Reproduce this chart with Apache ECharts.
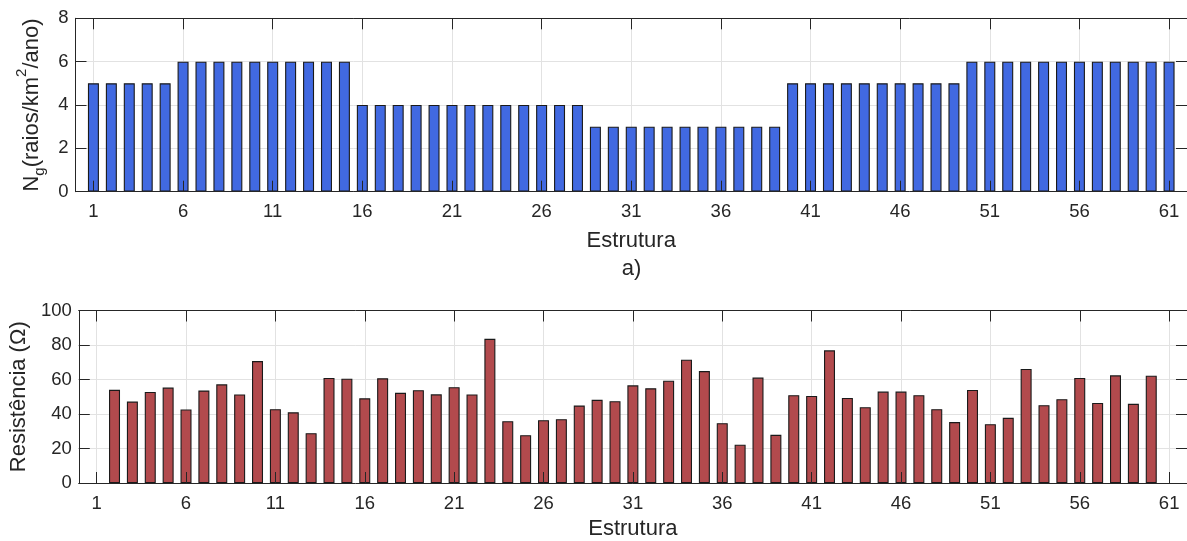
<!DOCTYPE html>
<html>
<head>
<meta charset="utf-8">
<script src="https://cdn.jsdelivr.net/npm/echarts@6/dist/echarts.min.js"></script>
<style>
  html, body { margin: 0; padding: 0; background: #ffffff; }
  #chart { width: 1187px; height: 541px; }
</style>
</head>
<body>
<div id="chart"></div>
<script>
// Estruturas da linha (1 a 61)
const estruturas = [1, 2, 3, 4, 5, 6, 7, 8, 9, 10, 11, 12, 13, 14, 15, 16, 17, 18, 19, 20,
  21, 22, 23, 24, 25, 26, 27, 28, 29, 30, 31, 32, 33, 34, 35, 36, 37, 38, 39, 40,
  41, 42, 43, 44, 45, 46, 47, 48, 49, 50, 51, 52, 53, 54, 55, 56, 57, 58, 59, 60, 61];

// Densidade de descargas Ng (raios/km²/ano) por estrutura
const ngValores = [5, 5, 5, 5, 5,
  6, 6, 6, 6, 6, 6, 6, 6, 6, 6,
  4, 4, 4, 4, 4, 4, 4, 4, 4, 4, 4, 4, 4,
  3, 3, 3, 3, 3, 3, 3, 3, 3, 3, 3,
  5, 5, 5, 5, 5, 5, 5, 5, 5, 5,
  6, 6, 6, 6, 6, 6, 6, 6, 6, 6, 6, 6];

// Resistência de aterramento (Ω) – estruturas 2 a 60
const resEstruturas = [2, 3, 4, 5, 6, 7, 8, 9, 10, 11, 12, 13, 14, 15, 16, 17, 18, 19, 20,
  21, 22, 23, 24, 25, 26, 27, 28, 29, 30, 31, 32, 33, 34, 35, 36, 37, 38, 39, 40,
  41, 42, 43, 44, 45, 46, 47, 48, 49, 50, 51, 52, 53, 54, 55, 56, 57, 58, 59, 60];
const resValores = [54.0, 47.2, 52.8, 55.3, 42.6, 53.6, 57.2, 51.3, 70.7, 42.8,
  41.0, 28.9, 60.9, 60.5, 49.1, 60.7, 52.3, 53.8, 51.4, 55.5,
  51.3, 83.6, 35.8, 27.7, 36.4, 37.0, 44.9, 48.2, 47.4, 56.6,
  54.9, 59.3, 71.5, 64.9, 34.7, 22.2, 61.1, 27.9, 50.9, 50.5,
  76.9, 49.3, 43.9, 53.0, 53.0, 50.9, 42.8, 35.3, 53.9, 34.1,
  37.8, 66.1, 45.1, 48.6, 60.9, 46.4, 62.4, 45.9, 62.2];

// Marcas do eixo x
const xTicks = [1, 6, 11, 16, 21, 26, 31, 36, 41, 46, 51, 56, 61];

const FONT = 'Liberation Sans, Arial, Helvetica, sans-serif';
const INK = '#262626';
const GRID = '#e2e2e2';

function xAxesFor(g, nameGap) {
  const base = { type: 'value', min: 0, max: 62, gridIndex: g };
  return [
    // grade vertical (atrás das barras)
    Object.assign({}, base, {
      position: 'bottom', z: 0,
      axisLine: { show: false },
      axisTick: { show: false, customValues: xTicks },
      axisLabel: { show: false, customValues: xTicks },
      splitLine: { show: true, lineStyle: { color: GRID, width: 1 } }
    }),
    // eixo inferior com rótulos
    Object.assign({}, base, {
      position: 'bottom', z: 5,
      axisLine: { show: true, onZero: false, lineStyle: { color: INK, width: 1 } },
      axisTick: { show: true, inside: true, length: 11, customValues: xTicks, lineStyle: { color: INK, width: 1 } },
      axisLabel: { show: true, customValues: xTicks, margin: 11, fontSize: 18.5, color: INK, fontFamily: FONT },
      splitLine: { show: false },
      name: 'Estrutura', nameLocation: 'middle', nameGap: nameGap,
      nameTextStyle: { fontSize: 22, color: INK, fontFamily: FONT }
    }),
    // contorno superior
    Object.assign({}, base, {
      position: 'top', z: 5,
      axisLine: { show: true, onZero: false, lineStyle: { color: INK, width: 1 } },
      axisTick: { show: true, inside: true, length: 11, customValues: xTicks, lineStyle: { color: INK, width: 1 } },
      axisLabel: { show: false },
      splitLine: { show: false }
    })
  ];
}

function yAxesFor(g, max, interval, name, nameGap, rich) {
  const base = { type: 'value', min: 0, max: max, interval: interval, gridIndex: g };
  return [
    Object.assign({}, base, {
      position: 'left', z: 0,
      axisLine: { show: false }, axisTick: { show: false }, axisLabel: { show: false },
      splitLine: { show: true, lineStyle: { color: GRID, width: 1 } }
    }),
    Object.assign({}, base, {
      position: 'left', z: 5,
      axisLine: { show: true, onZero: false, lineStyle: { color: INK, width: 1 } },
      axisTick: { show: true, inside: true, length: 11, lineStyle: { color: INK, width: 1 } },
      axisLabel: { show: true, margin: 7, fontSize: 18.5, color: INK, fontFamily: FONT },
      splitLine: { show: false },
      name: name, nameLocation: 'middle', nameRotate: 90, nameGap: nameGap,
      nameTextStyle: Object.assign({ fontSize: 22, color: INK, fontFamily: FONT }, rich ? { rich: rich } : {})
    }),
    Object.assign({}, base, {
      position: 'right', z: 5,
      axisLine: { show: true, onZero: false, lineStyle: { color: INK, width: 1 } },
      axisTick: { show: true, inside: true, length: 11, lineStyle: { color: INK, width: 1 } },
      axisLabel: { show: false },
      splitLine: { show: false }
    })
  ];
}

const ngRich = {
  b: { fontSize: 22, color: INK, fontFamily: FONT },
  sub: { fontSize: 15, color: INK, fontFamily: FONT, padding: [16, 0, 0, 0] },
  sup: { fontSize: 15, color: INK, fontFamily: FONT, padding: [0, 0, 20, 0] }
};

const chart = echarts.init(document.getElementById('chart'), null, { renderer: 'canvas' });

chart.setOption({
  animation: false,
  backgroundColor: '#ffffff',
  grid: [
    { left: 75.5, top: 18.3, width: 1112.5, height: 173.4 },
    { left: 75.5, top: 310.5, width: 1112.5, height: 172.8 }
  ],
  xAxis: xAxesFor(0, 38).concat(xAxesFor(1, 35)),
  yAxis: yAxesFor(0, 8, 2, '{b|N}{sub|g}{b|(raios/km}{sup|2}{b|/ano)}', 21, ngRich)
    .concat(yAxesFor(1, 100, 20, 'Resistência (Ω)', 39.5, null)),
  graphic: [
    {
      type: 'text', x: 631.5, y: 257.5,
      style: { text: 'a)', fontSize: 22, fill: INK, fontFamily: FONT, align: 'center', verticalAlign: 'top' }
    }
  ],
  series: [
    {
      type: 'bar', xAxisIndex: 0, yAxisIndex: 0,
      data: estruturas.map((e, i) => [e, ngValores[i]]),
      barWidth: 11,
      itemStyle: { color: '#4169E1', borderColor: '#1a1a1a', borderWidth: 1.1 }
    },
    {
      type: 'bar', xAxisIndex: 3, yAxisIndex: 3,
      data: resEstruturas.map((e, i) => [e, resValores[i]]),
      barWidth: 11,
      itemStyle: { color: '#B24A4D', borderColor: '#1a1a1a', borderWidth: 1.1 }
    }
  ]
});
</script>
</body>
</html>
